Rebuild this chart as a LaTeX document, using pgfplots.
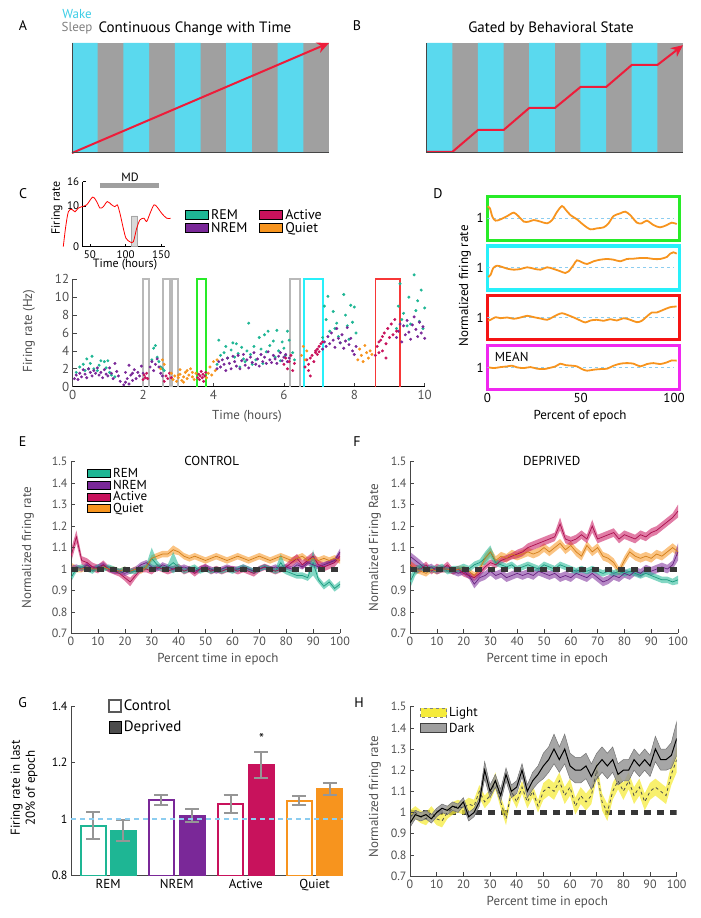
\documentclass[border=0pt]{standalone}
\usepackage{fontspec}
\setmainfont{PT Sans}
\usepackage{pgfplots}
\pgfplotsset{compat=1.18}
\usepackage{pgfplotstable}
\usetikzlibrary{arrows.meta}

\definecolor{wakec}{RGB}{90,217,238}
\definecolor{sleepc}{RGB}{160,160,160}
\definecolor{arrowred}{RGB}{238,28,58}
\definecolor{remc}{RGB}{30,182,148}
\definecolor{nremc}{RGB}{122,40,152}
\definecolor{actc}{RGB}{200,18,92}
\definecolor{quietc}{RGB}{247,148,30}
\definecolor{lblue}{RGB}{140,205,240}
\definecolor{boxgreen}{RGB}{40,235,40}
\definecolor{boxcyan}{RGB}{40,240,250}
\definecolor{boxred}{RGB}{245,20,20}
\definecolor{boxmag}{RGB}{240,40,240}
\definecolor{boxgray}{RGB}{185,185,185}
\definecolor{tickgray}{RGB}{80,80,80}
\definecolor{axgray}{RGB}{70,70,70}
\definecolor{dashk}{RGB}{55,55,55}
\definecolor{lightY}{RGB}{245,235,60}
\definecolor{darkG}{RGB}{150,150,150}
\definecolor{errgray}{RGB}{150,150,150}
\definecolor{wakeT}{RGB}{60,205,230}

\pgfplotsset{
  every axis/.append style={scale only axis, /pgf/number format/assume math mode=true},
  mat/.style={axis x line*=bottom, axis y line*=left,
    axis line style={-, draw=axgray, line width=0.8pt},
    tick style={draw=axgray, line width=0.6pt}, tick align=inside, major tick length=4pt,
    tick label style={font=\fontsize{12}{12}\selectfont, text=tickgray}},
  bandax/.style={anchor=south west, scale only axis, hide axis, stack plots=y, xmin=0, xmax=100, ymin=0.7, ymax=1.5},
  gbar/.style={forget plot, ybar, bar width=25pt, bar shift=0pt, line width=2pt,
    error bars/y dir=both, error bars/y explicit, error bars/error mark=-,
    error bars/error bar style={errgray, line width=2pt},
    error bars/error mark options={errgray, rotate=90, line width=2pt, mark size=7pt}},
}

\pgfplotstableread{
x r re n ne a ae q qe
0 0.96 0.02 1.00 0.015 1.06 0.03 1.01 0.02
2 1.00 0.015 1.01 0.012 1.15 0.03 1.00 0.015
4 1.01 0.012 1.00 0.012 1.04 0.02 1.00 0.015
6 1.00 0.012 1.02 0.012 1.03 0.02 1.01 0.012
8 0.99 0.012 1.00 0.012 1.01 0.02 1.00 0.012
10 1.01 0.012 1.01 0.012 1.00 0.02 1.00 0.012
12 1.00 0.012 1.02 0.012 1.02 0.02 1.01 0.012
14 1.01 0.012 1.00 0.012 1.00 0.015 1.00 0.012
16 1.00 0.012 0.99 0.012 0.99 0.015 1.00 0.012
18 0.99 0.012 0.99 0.012 0.98 0.015 0.99 0.012
20 1.00 0.012 0.98 0.012 0.96 0.015 1.00 0.012
22 0.99 0.012 0.99 0.012 0.94 0.02 0.99 0.012
24 0.99 0.012 1.00 0.012 0.97 0.015 1.00 0.012
26 1.00 0.012 1.02 0.012 1.00 0.015 0.99 0.012
28 1.01 0.012 1.03 0.012 1.00 0.015 1.01 0.012
30 1.05 0.05 1.01 0.012 0.99 0.015 1.05 0.015
32 1.02 0.02 1.00 0.012 1.01 0.015 1.06 0.015
34 1.00 0.012 1.02 0.012 1.00 0.015 1.07 0.015
36 1.01 0.012 1.01 0.012 0.99 0.015 1.07 0.015
38 1.03 0.05 1.00 0.012 1.00 0.015 1.09 0.02
40 1.01 0.012 1.00 0.012 1.01 0.015 1.08 0.015
42 0.99 0.012 1.01 0.012 0.99 0.015 1.06 0.015
44 1.00 0.012 1.00 0.012 1.00 0.015 1.05 0.015
46 1.01 0.012 0.99 0.012 0.98 0.015 1.06 0.015
48 0.99 0.012 1.00 0.012 1.00 0.015 1.05 0.015
50 1.00 0.012 1.01 0.012 1.01 0.015 1.04 0.015
52 0.99 0.012 1.00 0.012 0.99 0.015 1.05 0.015
54 1.00 0.012 0.99 0.012 1.00 0.015 1.06 0.015
56 0.99 0.012 1.00 0.012 0.99 0.015 1.05 0.015
58 1.00 0.012 1.01 0.012 1.00 0.015 1.04 0.015
60 0.99 0.012 1.00 0.012 1.00 0.015 1.05 0.015
62 1.00 0.012 1.00 0.012 0.99 0.015 1.06 0.015
64 1.01 0.012 1.01 0.012 1.00 0.015 1.05 0.015
66 1.00 0.012 1.00 0.012 0.99 0.015 1.04 0.015
68 0.99 0.012 0.99 0.012 0.98 0.015 1.05 0.015
70 1.00 0.012 1.00 0.012 1.00 0.015 1.06 0.015
72 1.01 0.012 1.01 0.012 1.01 0.015 1.05 0.015
74 1.00 0.012 1.00 0.012 1.00 0.015 1.04 0.015
76 0.99 0.012 1.01 0.012 0.99 0.015 1.05 0.015
78 1.03 0.04 1.00 0.012 1.00 0.015 1.06 0.015
80 0.99 0.015 1.01 0.012 1.01 0.015 1.05 0.015
82 0.98 0.015 1.00 0.012 1.03 0.02 1.04 0.015
84 0.97 0.015 1.02 0.012 1.05 0.02 1.05 0.015
86 0.97 0.015 1.01 0.012 1.02 0.02 1.06 0.015
88 0.96 0.015 1.03 0.012 1.04 0.02 1.04 0.015
90 1.03 0.06 1.02 0.012 1.06 0.02 1.05 0.015
92 0.95 0.015 1.01 0.012 1.02 0.02 1.04 0.015
94 0.92 0.015 1.02 0.012 1.01 0.02 1.05 0.015
96 0.94 0.015 1.03 0.012 1.02 0.02 1.04 0.015
98 0.91 0.015 1.04 0.012 1.03 0.02 1.05 0.015
100 0.93 0.015 1.08 0.015 1.06 0.02 1.04 0.015
}\tabE

\pgfplotstableread{
x r re n ne a ae q qe
0 0.94 0.03 1.06 0.02 1.02 0.02 1.02 0.02
2 0.99 0.02 1.04 0.02 1.00 0.02 1.00 0.02
4 1.01 0.015 1.02 0.02 1.00 0.015 0.99 0.015
6 1.00 0.015 1.00 0.015 1.02 0.015 0.98 0.015
8 1.00 0.015 1.01 0.015 0.99 0.015 1.00 0.015
10 1.00 0.015 0.99 0.015 1.01 0.015 0.99 0.015
12 1.01 0.015 1.00 0.015 1.00 0.015 1.00 0.015
14 0.99 0.015 1.00 0.015 1.02 0.015 1.00 0.015
16 1.00 0.015 0.99 0.015 0.99 0.015 0.99 0.015
18 1.00 0.015 0.98 0.015 1.00 0.015 1.00 0.015
20 1.01 0.015 0.99 0.015 0.98 0.015 1.00 0.015
22 1.00 0.015 0.97 0.015 0.97 0.015 0.99 0.015
24 1.02 0.015 0.93 0.02 0.96 0.015 0.97 0.015
26 1.03 0.015 0.96 0.02 0.98 0.015 1.00 0.015
28 1.05 0.03 0.97 0.02 1.01 0.015 1.05 0.02
30 1.08 0.03 0.99 0.02 1.03 0.015 1.08 0.02
32 1.03 0.015 0.97 0.02 1.02 0.015 1.04 0.02
34 1.02 0.015 0.98 0.02 1.04 0.015 1.06 0.02
36 1.01 0.015 0.96 0.02 1.05 0.015 1.05 0.02
38 1.02 0.015 0.97 0.02 1.06 0.015 1.07 0.02
40 1.00 0.015 0.98 0.02 1.07 0.02 1.06 0.02
42 1.01 0.015 0.97 0.02 1.08 0.02 1.07 0.02
44 1.02 0.015 0.98 0.02 1.10 0.02 1.08 0.02
46 1.01 0.015 0.97 0.02 1.11 0.02 1.07 0.02
48 1.00 0.015 0.99 0.02 1.12 0.02 1.08 0.02
50 1.02 0.015 0.98 0.02 1.13 0.02 1.10 0.02
52 1.01 0.015 0.97 0.02 1.14 0.02 1.08 0.02
54 1.00 0.015 0.98 0.02 1.15 0.02 1.10 0.02
56 1.02 0.015 0.96 0.02 1.21 0.03 1.12 0.02
58 1.01 0.015 0.97 0.02 1.14 0.02 1.09 0.02
60 1.00 0.015 0.96 0.02 1.13 0.02 1.11 0.02
62 0.99 0.015 0.98 0.02 1.14 0.02 1.08 0.02
64 1.00 0.015 0.97 0.02 1.16 0.02 1.06 0.02
66 0.99 0.015 0.96 0.02 1.14 0.02 1.11 0.02
68 1.00 0.015 0.98 0.02 1.20 0.03 1.08 0.02
70 0.99 0.015 0.96 0.02 1.14 0.02 1.10 0.02
72 0.98 0.015 0.94 0.02 1.15 0.02 1.06 0.02
74 0.99 0.015 0.95 0.02 1.16 0.02 1.05 0.02
76 0.98 0.015 0.97 0.02 1.17 0.02 1.03 0.02
78 0.99 0.015 0.96 0.02 1.14 0.02 0.99 0.02
80 0.98 0.015 0.98 0.02 1.16 0.02 1.04 0.02
82 0.99 0.015 0.97 0.02 1.15 0.02 1.08 0.02
84 0.98 0.015 0.99 0.02 1.14 0.02 1.06 0.02
86 0.97 0.015 0.98 0.02 1.16 0.02 1.05 0.02
88 0.98 0.015 1.00 0.02 1.15 0.02 1.06 0.02
90 0.97 0.015 0.99 0.02 1.17 0.02 1.05 0.02
92 0.96 0.015 1.00 0.02 1.18 0.02 1.07 0.02
94 0.95 0.015 1.01 0.02 1.20 0.02 1.06 0.02
96 0.95 0.015 1.00 0.02 1.22 0.02 1.08 0.02
98 0.94 0.015 1.02 0.02 1.24 0.02 1.10 0.02
100 0.95 0.02 1.08 0.04 1.27 0.03 1.08 0.02
}\tabF

\pgfplotstableread{
x d de l le
0 0.95 0.02 0.98 0.03
2 0.99 0.02 1.00 0.03
4 0.98 0.02 0.98 0.03
6 0.99 0.02 0.97 0.03
8 0.97 0.02 1.00 0.03
10 1.00 0.02 0.97 0.03
12 1.02 0.02 0.96 0.03
14 1.01 0.02 1.00 0.03
16 1.03 0.02 1.02 0.03
18 1.02 0.02 1.03 0.03
20 1.05 0.02 1.02 0.03
22 0.98 0.02 1.04 0.03
24 1.00 0.02 1.03 0.03
26 1.05 0.02 1.10 0.03
28 1.20 0.04 1.05 0.03
30 1.10 0.03 1.08 0.03
32 1.15 0.03 1.15 0.04
34 1.08 0.03 1.05 0.03
36 1.18 0.03 0.97 0.03
38 1.10 0.03 1.10 0.03
40 1.12 0.03 1.05 0.03
42 1.20 0.03 1.12 0.03
44 1.10 0.03 1.05 0.03
46 1.15 0.04 1.10 0.03
48 1.18 0.04 1.03 0.03
50 1.22 0.06 1.10 0.04
52 1.25 0.06 1.12 0.04
54 1.30 0.07 1.10 0.04
56 1.25 0.06 1.15 0.04
58 1.30 0.07 1.08 0.04
60 1.22 0.06 1.12 0.04
62 1.20 0.06 1.03 0.04
64 1.20 0.06 1.08 0.04
66 1.22 0.06 1.05 0.04
68 1.17 0.06 1.08 0.04
70 1.22 0.06 1.20 0.04
72 1.25 0.06 1.05 0.04
74 1.22 0.06 1.00 0.04
76 1.25 0.06 1.10 0.04
78 1.18 0.05 1.15 0.04
80 1.20 0.05 1.10 0.04
82 1.20 0.05 1.15 0.04
84 1.25 0.05 1.08 0.04
86 1.22 0.05 1.12 0.04
88 1.25 0.05 1.05 0.04
90 1.22 0.05 1.10 0.04
92 1.30 0.06 1.12 0.04
94 1.25 0.05 1.10 0.04
96 1.25 0.05 1.08 0.04
98 1.27 0.06 1.18 0.05
100 1.35 0.08 1.25 0.06
}\tabH

\newcommand{\bandsRNAQ}[1]{%
  \addplot[draw=none] table[x=x, y expr=\thisrow{r}-\thisrow{re}] {#1};
  \addplot[draw=none, fill=remc, fill opacity=0.55] table[x=x, y expr=2*\thisrow{re}] {#1} \closedcycle;
  \addplot[draw=none] table[x=x, y expr=\thisrow{n}-\thisrow{ne}-\thisrow{r}-\thisrow{re}] {#1};
  \addplot[draw=none, fill=nremc, fill opacity=0.55] table[x=x, y expr=2*\thisrow{ne}] {#1} \closedcycle;
  \addplot[draw=none] table[x=x, y expr=\thisrow{a}-\thisrow{ae}-\thisrow{n}-\thisrow{ne}] {#1};
  \addplot[draw=none, fill=actc, fill opacity=0.55] table[x=x, y expr=2*\thisrow{ae}] {#1} \closedcycle;
  \addplot[draw=none] table[x=x, y expr=\thisrow{q}-\thisrow{qe}-\thisrow{a}-\thisrow{ae}] {#1};
  \addplot[draw=none, fill=quietc, fill opacity=0.55] table[x=x, y expr=2*\thisrow{qe}] {#1} \closedcycle;
}
\newcommand{\meansRNAQ}[1]{%
  \addplot[forget plot, remc!85!black, line width=0.7pt] table[x=x, y=r] {#1};
  \addplot[forget plot, nremc!85!black, line width=0.7pt] table[x=x, y=n] {#1};
  \addplot[forget plot, actc!85!black, line width=0.7pt] table[x=x, y=a] {#1};
  \addplot[forget plot, quietc!85!black, line width=0.7pt] table[x=x, y=q] {#1};
}

\begin{document}
\begin{tikzpicture}
\useasboundingbox (0pt,0pt) rectangle (701pt,918pt);

% ---------------- A ----------------
\begin{axis}[at={(72pt,765pt)}, anchor=south west, width=257pt, height=110pt,
  xmin=0, xmax=10, ymin=0, ymax=1, axis x line*=bottom, axis y line*=left,
  axis line style={-, draw=axgray, line width=1pt}, xtick=\empty, ytick=\empty,
  clip=false, axis on top, axis background/.style={fill=sleepc}]
\addplot[ybar interval, fill=wakec, draw=none] coordinates {(0,1)(1,0)(2,1)(3,0)(4,1)(5,0)(6,1)(7,0)(8,1)(9,0)(10,0)};
\addplot[arrowred, line width=2pt, -{Stealth[length=12pt,width=11pt]}] coordinates {(0,0)(10,1)};
\end{axis}
\node[font=\fontsize{14}{14}\selectfont] at (23pt,892pt) {A};
\node[font=\fontsize{13}{13}\selectfont, text=wakeT, anchor=base, inner sep=0pt] at (77pt,899pt) {Wake};
\node[font=\fontsize{13}{13}\selectfont, text=gray, anchor=base, inner sep=0pt] at (77pt,886pt) {Sleep};
\node[font=\fontsize{15}{15}\selectfont] at (195pt,889pt) {Continuous Change with Time};

% ---------------- B ----------------
\begin{axis}[at={(426.7pt,765pt)}, anchor=south west, width=256.3pt, height=110pt,
  xmin=0, xmax=10, ymin=0, ymax=1, axis x line*=bottom, axis y line*=left,
  axis line style={-, draw=axgray, line width=1pt}, xtick=\empty, ytick=\empty,
  clip=false, axis on top, axis background/.style={fill=sleepc}]
\addplot[ybar interval, fill=wakec, draw=none] coordinates {(0,1)(1,0)(2,1)(3,0)(4,1)(5,0)(6,1)(7,0)(8,1)(9,0)(10,0)};
\addplot[arrowred, line width=2pt, -{Stealth[length=12pt,width=11pt]}] coordinates {(0,0.01)(1,0.01)(2,0.209)(3,0.209)(4,0.409)(5,0.409)(6,0.6)(7,0.6)(8,0.8)(9,0.8)(10,0.98)};
\end{axis}
\node[font=\fontsize{14}{14}\selectfont] at (357pt,892pt) {B};
\node[font=\fontsize{15}{15}\selectfont] at (551pt,889pt) {Gated by Behavioral State};

% ---------------- C inset ----------------
\begin{axis}[at={(82.7pt,671.3pt)}, anchor=south west, width=82.1pt, height=65pt,
  xmin=40, xmax=155, ymin=0, ymax=16, xtick={50,100,150}, ytick={0,10,16},
  axis x line*=bottom, axis y line*=left, axis line style={-, black, line width=0.7pt},
  tick style={black, line width=0.6pt}, tick align=inside, major tick length=3pt,
  tick label style={font=\fontsize{11}{11}\selectfont}, clip=false]
\addplot[fill=gray!30, draw=gray!70, line width=0.5pt] coordinates {(108.6,0)(108.6,7.6)(116.5,7.6)(116.5,0)(108.6,0)};
\addplot[gray!75, line width=5pt] coordinates {(64.2,15)(147.3,15)};
\addplot[red, line width=0.8pt, smooth] coordinates {(12.8,0)(16.2,4.9)(19.9,8.6)(24.6,9.2)(29.2,8.6)(33.8,9.5)(38.6,9.85)(45.6,10.3)(54,12.2)(59.6,11.1)(64.2,9.5)(68.9,9.85)(74.5,11.1)(80.6,10.3)(85.2,9.85)(88.5,10.3)(92.2,8.2)(96.9,4.5)(100.6,2.1)(106.2,1.2)(110.9,1.2)(115.6,4.5)(120.2,6.6)(125.9,7.0)(129.6,6.2)(134.3,8.2)(139.9,10.3)(144.5,9.7)(150.7,8.2)(157.7,7.0)(163.2,7.0)};
\end{axis}
\node[font=\fontsize{14}{14}\selectfont] at (23pt,724pt) {C};
\node[font=\fontsize{12}{12}\selectfont] at (130pt,740.7pt) {MD};
\node[font=\fontsize{12}{12}\selectfont] at (125pt,653pt) {Time (hours)};
\node[font=\fontsize{12}{12}\selectfont, rotate=90] at (57pt,710pt) {Firing rate};

% ---------------- C main ----------------
\begin{axis}[mat, at={(72.7pt,531.3pt)}, anchor=south west, width=352pt, height=107.4pt,
  xmin=0, xmax=10, ymin=0, ymax=12, xtick={0,2,...,10}, ytick={0,2,...,12},
  x axis line style={black, line width=1.5pt},
  tick label style={font=\fontsize{13}{13}\selectfont, text=tickgray}, clip=false,
  legend columns=2, transpose legend, legend cell align=left,
  legend image code/.code={\draw[#1] (0pt,-4.5pt) rectangle (23pt,4.5pt);},
  legend style={at={(0.319,1.673)}, anchor=north west, draw=none, fill=none, inner sep=0pt,
    font=\fontsize{14}{14}\selectfont, row sep=-2pt,
    /tikz/every even column/.append style={column sep=10pt}}]
\addlegendimage{fill=remc, draw=black, line width=0.9pt}\addlegendentry{REM}
\addlegendimage{fill=nremc, draw=black, line width=0.9pt}\addlegendentry{NREM}
\addlegendimage{fill=actc, draw=black, line width=0.9pt}\addlegendentry{Active}
\addlegendimage{fill=quietc, draw=black, line width=0.9pt}\addlegendentry{Quiet}
% REM
\addplot[forget plot, only marks, mark=*, mark size=1.3pt, color=remc] coordinates {
(0.1,1.6)(0.2,2.2)(0.3,2.5)(0.35,1.8)(0.4,3.1)(0.45,2.0)(0.5,2.6)(0.55,3.4)(0.6,2.0)(0.7,1.8)(0.75,2.4)(0.8,2.9)(0.9,2.8)(0.95,2.1)(1.0,2.9)(1.05,1.6)(1.1,1.3)(1.2,1.1)
(2.25,3.0)(2.3,4.3)(2.35,4.6)(2.4,3.3)(2.45,2.8)(2.5,2.2)(2.55,2.0)(2.6,1.8)
(4.1,2.5)(4.15,5.2)(4.2,3.5)(4.3,3.8)(4.35,4.5)(4.4,3.2)(4.5,4.1)(4.55,4.9)(4.6,3.3)(4.65,4.8)(4.7,3.7)(4.75,2.2)(4.8,4.4)(4.85,3.1)(4.9,2.8)(4.95,4.0)(5.0,7.1)(5.05,3.6)(5.1,2.5)(5.15,4.5)(5.2,3.0)(5.3,5.5)(5.35,4.2)(5.4,2.6)(5.45,5.8)(5.5,3.9)(5.55,6.2)(5.6,4.6)(5.7,5.1)(5.75,3.3)(5.8,6.3)(5.85,4.0)(5.9,2.9)(5.95,5.0)(6.0,4.3)(6.05,3.5)(6.1,6.2)(6.15,5.2)
(6.25,3.8)(6.3,3.0)
(7.1,5.5)(7.15,9.0)(7.2,7.5)(7.25,10.1)(7.3,6.2)(7.4,8.4)(7.45,6.5)(7.5,7.1)(7.55,5.6)(7.6,4.9)(7.7,10.3)(7.75,8.0)(7.8,6.8)(7.85,5.3)(7.9,9.1)(7.95,7.2)(8.0,8.9)(8.05,6.0)
(9.2,6.5)(9.25,9.0)(9.3,11.5)(9.35,7.5)(9.4,8.2)(9.5,6.8)(9.55,10.0)(9.6,7.0)(9.7,12.5)(9.75,8.5)(9.8,9.6)(9.85,7.3)(9.9,10.8)(9.95,6.5)(10.0,8.8)};
% NREM
\addplot[forget plot, only marks, mark=*, mark size=1.3pt, color=nremc] coordinates {
(0.05,0.9)(0.1,1.3)(0.15,0.8)(0.2,1.5)(0.25,1.1)(0.3,1.9)(0.35,1.4)(0.4,1.0)(0.45,2.0)(0.5,1.6)(0.55,1.2)(0.6,1.8)(0.65,1.5)(0.7,2.1)(0.75,1.3)(0.8,1.6)(0.85,1.0)(0.9,1.9)(0.95,1.4)(1.0,1.2)(1.05,2.1)(1.1,1.5)(1.15,0.9)(1.2,2.6)(1.25,1.7)(1.3,1.2)(1.35,0.6)
(1.45,0.2)(1.5,0.5)(1.55,0.9)(1.6,0.3)(1.65,1.3)(1.7,0.7)(1.75,1.9)(1.8,0.9)(1.85,1.6)(1.9,1.2)(1.95,2.3)(2.0,1.5)(1.5,1.6)(1.6,2.4)(1.7,1.5)
(2.2,2.2)(2.25,2.8)(2.3,1.8)(2.35,2.5)(2.4,3.1)(2.45,2.2)(2.5,1.5)(2.55,1.2)
(4.1,2.0)(4.15,2.8)(4.2,2.2)(4.25,3.0)(4.3,2.5)(4.35,1.8)(4.4,3.2)(4.45,2.6)(4.5,2.0)(4.55,3.4)(4.6,2.8)(4.65,2.3)(4.7,3.5)(4.75,2.0)(4.8,2.9)(4.85,3.6)(4.9,2.4)(4.95,3.0)(5.0,2.1)(5.05,3.3)(5.1,2.7)(5.15,3.8)(5.2,2.5)(5.25,3.1)(5.3,2.3)(5.35,3.6)(5.4,2.8)(5.45,3.3)(5.5,2.6)(5.55,3.9)(5.6,3.0)(5.65,2.7)(5.7,3.5)(5.75,3.1)(5.8,2.6)(5.85,3.4)(5.9,3.8)(5.95,2.9)(6.0,3.3)(6.05,3.6)(6.1,2.8)(6.15,3.2)
(7.1,4.2)(7.15,5.0)(7.2,4.5)(7.25,5.6)(7.3,4.8)(7.35,6.0)(7.4,5.2)(7.45,4.4)(7.5,6.5)(7.55,5.4)(7.6,4.9)(7.65,5.8)(7.7,4.3)(7.75,5.1)(7.8,6.6)(7.85,4.7)(7.9,5.4)(7.95,4.0)(8.0,3.6)(8.05,4.5)
(9.2,5.5)(9.25,6.2)(9.3,7.0)(9.35,5.0)(9.4,6.8)(9.45,5.8)(9.5,7.4)(9.55,6.1)(9.6,5.3)(9.65,6.9)(9.7,7.8)(9.75,6.4)(9.8,5.6)(9.85,7.2)(9.9,6.0)(9.95,6.7)(10.0,5.4)};
% Active
\addplot[forget plot, only marks, mark=*, mark size=1.3pt, color=actc] coordinates {
(2.0,0.8)(2.03,1.3)(2.06,1.0)(2.1,1.5)(2.13,0.9)
(2.6,0.6)(2.65,1.2)(2.7,0.9)(2.75,1.5)(2.8,1.0)
(3.55,1.0)(3.58,1.4)(3.6,0.8)(3.62,1.2)(3.65,1.7)(3.68,1.0)(3.7,1.4)(3.72,0.6)(3.75,1.2)(3.78,1.6)
(6.0,2.5)(6.05,3.2)(6.1,2.0)(6.15,2.8)(6.2,3.5)(6.25,1.8)(6.3,2.6)
(6.6,2.2)(6.65,3.0)(6.7,2.5)(6.75,1.2)(6.8,3.5)(6.85,2.8)(6.9,3.8)(6.95,4.2)(7.0,4.5)(7.05,4.8)(7.1,5.0)(6.9,4.0)(6.95,3.6)(7.0,3.9)(6.75,3.2)(6.7,1.8)
(8.6,3.5)(8.65,4.5)(8.7,3.8)(8.75,5.2)(8.8,4.0)(8.85,6.0)(8.9,4.8)(8.95,6.5)(9.0,5.5)(9.05,7.0)(9.1,5.8)(9.15,7.5)(9.2,6.2)(8.7,5.0)(8.8,5.6)(8.9,3.2)};
% Quiet
\addplot[forget plot, only marks, mark=*, mark size=1.3pt, color=quietc] coordinates {
(2.5,2.0)(2.55,3.0)(2.6,2.5)
(2.8,1.5)(2.85,0.8)(2.9,1.2)(2.95,0.6)(3.0,1.0)(3.05,1.4)(3.1,0.7)(3.15,1.1)(3.2,1.6)(3.25,0.9)(3.3,1.3)(3.35,2.0)(3.4,1.1)(3.45,0.8)(3.5,1.5)(3.05,1.9)(3.15,0.5)(3.25,1.8)(3.0,1.3)(3.4,1.6)
(3.8,1.0)(3.85,1.5)(3.9,2.2)(3.95,1.3)(4.0,2.8)(4.05,1.8)(4.1,3.0)
(6.5,3.5)(6.55,4.5)(6.6,3.0)(6.65,4.0)
(8.1,3.0)(8.15,4.2)(8.2,3.5)(8.25,2.8)(8.3,4.6)(8.35,3.8)(8.4,3.2)(8.45,4.0)(8.5,3.6)};
% epoch boxes
\addplot[forget plot, boxgray, line width=1.8pt] coordinates {(2.0,0)(2.0,12)(2.17,12)(2.17,0)};
\addplot[forget plot, boxgray, line width=1.8pt] coordinates {(2.57,0)(2.57,12)(2.76,12)(2.76,0)};
\addplot[forget plot, boxgray, line width=1.8pt] coordinates {(2.83,0)(2.83,12)(2.99,12)(2.99,0)};
\addplot[forget plot, boxgray, line width=1.8pt] coordinates {(6.18,0)(6.18,12)(6.46,12)(6.46,0)};
\addplot[forget plot, boxgreen, line width=1.8pt] coordinates {(3.54,0)(3.54,12)(3.79,12)(3.79,0)};
\addplot[forget plot, boxcyan, line width=1.8pt] coordinates {(6.57,0)(6.57,12)(7.11,12)(7.11,0)};
\addplot[forget plot, boxred!85!white, line width=1.8pt] coordinates {(8.6,0)(8.6,12)(9.3,12)(9.3,0)};
\end{axis}
\node[font=\fontsize{13}{13}\selectfont, text=tickgray] at (247pt,501.3pt) {Time (hours)};
\node[font=\fontsize{13}{13}\selectfont, text=tickgray, rotate=90] at (29pt,587pt) {Firing rate (Hz)};

% ---------------- D ----------------
\pgfplotsset{dbox/.style={at={(487.3pt,#1)}, anchor=west, width=192pt, height=44pt,
  xmin=0, xmax=102.8, ymin=-22, ymax=22, ytick={0}, yticklabels={1}, ytick pos=left,
  major tick length=0pt, xtick=\empty, tick label style={font=\fontsize{13}{13}\selectfont}}}
\begin{axis}[dbox=699.65pt, axis line style={boxgreen, line width=3.5pt}]
\addplot[lblue, dashed, line width=1pt] coordinates {(0,0)(100,0)};
\addplot[quietc, line width=1.8pt, smooth] coordinates {(0,12)(1.4,10)(2.7,1.7)(4.4,-2.3)(7.1,-1)(10.7,2.3)(14.2,5.7)(16.9,1.7)(19.6,-3.3)(22.2,-3.3)(24.9,-1.7)(28.5,-3.3)(32.0,-5)(34.7,-1.7)(37.4,6.7)(40.0,12.3)(41.8,9)(44.5,3.3)(48.0,-1)(51.6,-6.7)(55.2,-11)(58.7,-10)(62.3,-9)(64.9,-5)(67.6,2.3)(71.2,5)(73.8,6.7)(76.5,3.3)(80.1,-4.3)(82.7,-5)(85.4,-2.3)(89.0,-6.7)(92.5,-9)(96.1,-6.7)(98.8,-4.3)(101.4,-5.7)};
\end{axis}
\begin{axis}[dbox=650pt, axis line style={boxcyan, line width=3.5pt}]
\addplot[lblue, dashed, line width=1pt] coordinates {(0,0)(100,0)};
\addplot[quietc, line width=1.8pt, smooth] coordinates {(0.5,-9)(1.8,-6.7)(3.2,0)(5.3,2.3)(8.0,1)(10.7,-0.7)(14.2,-1.7)(17.8,-1)(21.4,0.7)(24.9,-0.7)(28.5,-1.7)(32.0,0.7)(35.6,-1)(39.1,-3.3)(41.8,-5)(43.6,-3.3)(46.3,3.3)(48.0,7.7)(50.7,5.7)(53.4,4)(56.9,6.7)(60.5,8.3)(64.1,9)(67.6,8.3)(71.2,6.7)(74.7,9)(78.3,9.3)(81.9,10)(85.4,10)(89.0,9)(92.5,9)(96.1,11)(97.9,14.3)(99.6,15.7)(101.4,14.3)};
\end{axis}
\begin{axis}[dbox=600.5pt, axis line style={boxred, line width=3.5pt}]
\addplot[lblue, dashed, line width=1pt] coordinates {(0,0)(100,0)};
\addplot[quietc, line width=1.8pt, smooth] coordinates {(0.5,-3)(1.8,-2.3)(4.4,0.3)(7.1,-0.7)(10.7,0)(14.2,-1.3)(17.8,0)(21.4,1.7)(24.9,0.3)(28.5,-1)(32.0,-2.3)(34.7,0)(37.4,2.7)(40.0,4.3)(42.7,2.7)(46.3,0)(49.8,-3)(52.5,-5)(55.2,-3)(58.7,-2.3)(62.3,-3.3)(65.8,-1.7)(69.4,-3)(73.0,-0.7)(76.5,-2.3)(80.1,-4.7)(82.7,-3.3)(85.4,1)(88.1,5)(90.7,5)(94.3,7.7)(97.9,10.3)(101.4,11)};
\end{axis}
\begin{axis}[dbox=550.6pt, axis line style={boxmag, line width=3.5pt}, xtick={0,50,100}]
\addplot[lblue, dashed, line width=1pt] coordinates {(0,0)(100,0)};
\addplot[quietc, line width=1.8pt, smooth] coordinates {(0.9,0)(3.6,-0.7)(7.1,0.3)(10.7,1)(13.3,1.7)(16.0,0)(19.6,-0.7)(23.1,0.3)(26.7,-1.3)(30.2,-1.7)(32.9,-0.7)(36.5,1)(39.1,3.7)(41.8,2.3)(45.4,1.7)(48.0,1)(50.7,-1.7)(53.4,-3.3)(56.9,-2.3)(60.5,-1.7)(64.1,-1.3)(67.6,1.7)(71.2,3.7)(74.7,4.3)(78.3,3.7)(81.9,1)(85.4,3.3)(89.0,4.3)(92.5,3.3)(96.1,5)(98.8,7)(101.4,6.7)};
\end{axis}
\node[font=\fontsize{14}{14}\selectfont] at (438pt,724pt) {D};
\node[font=\fontsize{13}{13}\selectfont] at (511.7pt,560.7pt) {MEAN};
\node[font=\fontsize{13}{13}\selectfont] at (580pt,501.3pt) {Percent of epoch};
\node[font=\fontsize{13}{13}\selectfont, rotate=90] at (465pt,632pt) {Normalized firing rate};

% ---------------- E ----------------
\begin{axis}[bandax, at={(71pt,284.5pt)}, width=269pt, height=171.8pt]
\bandsRNAQ{\tabE}
\end{axis}
\begin{axis}[mat, at={(71pt,284.5pt)}, anchor=south west, width=269pt, height=171.8pt,
  xmin=0, xmax=100, ymin=0.7, ymax=1.5, xtick={0,10,...,100}, ytick={0.7,0.8,...,1.5},
  legend cell align=left,
  legend image code/.code={\draw[#1] (0pt,-4pt) rectangle (23pt,4pt);},
  legend style={at={(0.06,0.975)}, anchor=north west, draw=none, fill=none, inner sep=0pt,
    font=\fontsize{13}{13}\selectfont, row sep=-3pt}]
\addlegendimage{fill=remc, draw=black, line width=0.9pt}\addlegendentry{REM}
\addlegendimage{fill=nremc, draw=black, line width=0.9pt}\addlegendentry{NREM}
\addlegendimage{fill=actc, draw=black, line width=0.9pt}\addlegendentry{Active}
\addlegendimage{fill=quietc, draw=black, line width=0.9pt}\addlegendentry{Quiet}
\meansRNAQ{\tabE}
\addplot[forget plot, dashk, line width=5pt, dash pattern=on 6.5pt off 6.5pt] coordinates {(0,1)(100,1)};
\end{axis}
\node[font=\fontsize{14}{14}\selectfont] at (22.7pt,476.3pt) {E};
\node[font=\fontsize{13}{13}\selectfont] at (211.7pt,457.3pt) {CONTROL};
\node[font=\fontsize{13}{13}\selectfont, text=tickgray] at (218pt,258.7pt) {Percent time in epoch};
\node[font=\fontsize{13}{13}\selectfont, text=tickgray, rotate=90] at (28pt,370.4pt) {Normalized firing rate};

% ---------------- F ----------------
\begin{axis}[bandax, at={(410pt,284.5pt)}, width=268pt, height=171.8pt]
\bandsRNAQ{\tabF}
\end{axis}
\begin{axis}[mat, at={(410pt,284.5pt)}, anchor=south west, width=268pt, height=171.8pt,
  xmin=0, xmax=100, ymin=0.7, ymax=1.5, xtick={0,10,...,100}, ytick={0.7,0.8,...,1.5}]
\meansRNAQ{\tabF}
\addplot[forget plot, dashk, line width=5pt, dash pattern=on 6.5pt off 6.5pt] coordinates {(0,1)(100,1)};
\end{axis}
\node[font=\fontsize{14}{14}\selectfont] at (357pt,476.3pt) {F};
\node[font=\fontsize{13}{13}\selectfont] at (551.7pt,457.3pt) {DEPRIVED};
\node[font=\fontsize{13}{13}\selectfont, text=tickgray] at (547.3pt,258.7pt) {Percent time in epoch};
\node[font=\fontsize{13}{13}\selectfont, text=tickgray, rotate=90] at (375pt,370.4pt) {Normalized Firing Rate};

% ---------------- G ----------------
\begin{axis}[mat, at={(71pt,42.3pt)}, anchor=south west, width=272pt, height=169.8pt,
  xmin=0, xmax=272, ymin=0.8, ymax=1.4, ytick={0.8,1,1.2,1.4},
  xtick={37.2,105.7,174.8,243.6}, xticklabels={REM,NREM,Active,Quiet},
  x tick label style={font=\fontsize{13}{13}\selectfont, text=black},
  y tick label style={font=\fontsize{12}{12}\selectfont, text=black},
  xtick style={draw=none},
  legend cell align=left,
  legend image code/.code={\draw[#1] (0pt,-6pt) rectangle (12pt,6pt);},
  legend style={at={(0.135,1.05)}, anchor=north west, draw=none, fill=none, inner sep=0pt,
    font=\fontsize{15}{15}\selectfont, row sep=5pt}]
\addlegendimage{fill=white, draw=black!65, line width=2pt}\addlegendentry{Control}
\addlegendimage{fill=black!70, draw=none}\addlegendentry{Deprived}
\addplot[gbar, draw=remc, fill=white] coordinates {(22,0.977) +- (0,0.047)};
\addplot[gbar, draw=remc, fill=remc] coordinates {(52.3,0.959) +- (0,0.037)};
\addplot[gbar, draw=nremc, fill=white] coordinates {(90.3,1.067) +- (0,0.018)};
\addplot[gbar, draw=nremc, fill=nremc] coordinates {(121,1.012) +- (0,0.024)};
\addplot[gbar, draw=actc, fill=white] coordinates {(159.5,1.053) +- (0,0.032)};
\addplot[gbar, draw=actc, fill=actc] coordinates {(190,1.191) +- (0,0.045)};
\addplot[gbar, draw=quietc, fill=white] coordinates {(228.3,1.065) +- (0,0.015)};
\addplot[gbar, draw=quietc, fill=quietc] coordinates {(258.9,1.106) +- (0,0.021)};
\addplot[forget plot, lblue, line width=1.5pt, dash pattern=on 5pt off 4pt] coordinates {(0,1)(272,1)};
\end{axis}
\node[font=\fontsize{14}{14}\selectfont] at (22.7pt,215.3pt) {G};
\node[font=\fontsize{14}{14}\selectfont] at (261.7pt,179.7pt) {*};
\node[font=\fontsize{13}{15}\selectfont, rotate=90, align=center] at (24pt,130pt) {Firing rate in last\\20\% of epoch};

% ---------------- H ----------------
\begin{axis}[anchor=south west, hide axis, at={(410pt,42pt)}, width=266.7pt, height=169.3pt, xmin=0, xmax=100, ymin=0.7, ymax=1.5]
\addplot[dashk, line width=5pt, dash pattern=on 6.5pt off 6.5pt] coordinates {(0,1)(100,1)};
\end{axis}
\begin{axis}[bandax, at={(410pt,42pt)}, width=266.7pt, height=169.3pt]
\addplot[draw=none] table[x=x, y expr=\thisrow{d}-\thisrow{de}] {\tabH};
\addplot[draw=black!55, line width=0.5pt, fill=darkG, fill opacity=0.85] table[x=x, y expr=2*\thisrow{de}] {\tabH} \closedcycle;
\addplot[draw=none] table[x=x, y expr=\thisrow{l}-\thisrow{le}-\thisrow{d}-\thisrow{de}] {\tabH};
\addplot[draw=none, fill=lightY, fill opacity=0.75] table[x=x, y expr=2*\thisrow{le}] {\tabH} \closedcycle;
\end{axis}
\begin{axis}[mat, at={(410pt,42pt)}, anchor=south west, width=266.7pt, height=169.3pt,
  xmin=0, xmax=100, ymin=0.7, ymax=1.5, xtick={0,10,...,100}, ytick={0.7,0.8,...,1.5},
  legend cell align=left,
  legend image code/.code={\draw[#1] (0pt,-4.5pt) rectangle (26pt,4.5pt);},
  legend style={at={(0.0375,1.01)}, anchor=north west, draw=none, fill=none, inner sep=0pt,
    font=\fontsize{13}{13}\selectfont, row sep=1pt}]
\addlegendimage{fill=lightY, draw=gray, dashed, line width=0.8pt}\addlegendentry{Light}
\addlegendimage{fill=gray!75, draw=black!75, line width=0.8pt}\addlegendentry{Dark}
\addplot[forget plot, black!70, dashed, line width=0.8pt] table[x=x, y=l] {\tabH};
\addplot[forget plot, black, line width=1pt] table[x=x, y=d] {\tabH};
\end{axis}
\node[font=\fontsize{14}{14}\selectfont] at (359pt,215pt) {H};
\node[font=\fontsize{13}{13}\selectfont, text=tickgray] at (547.3pt,16.3pt) {Percent time in epoch};
\node[font=\fontsize{13}{13}\selectfont, text=tickgray, rotate=90] at (375pt,121.3pt) {Normalized firing rate};

\end{tikzpicture}
\end{document}
